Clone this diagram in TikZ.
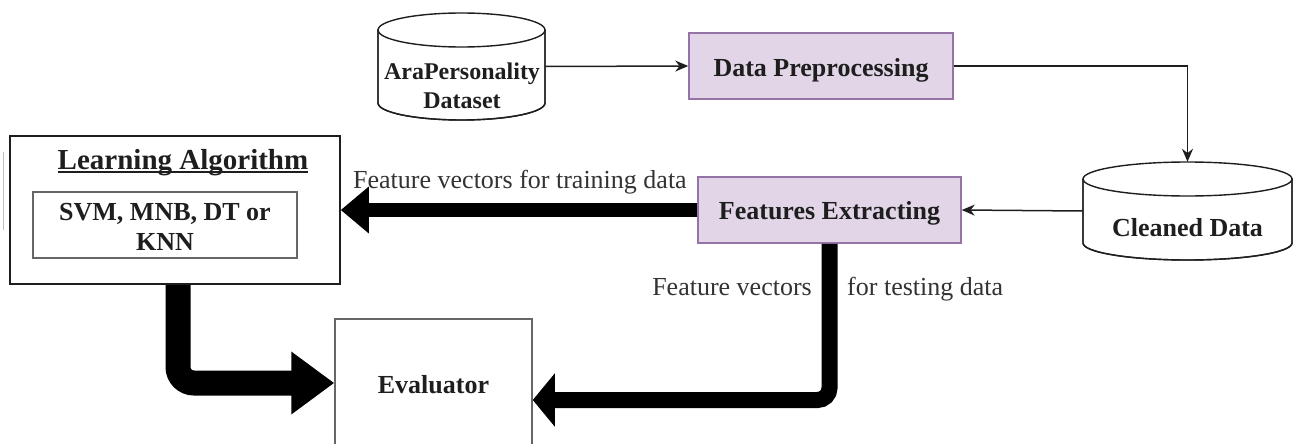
\documentclass[tikz,border=0pt]{standalone}
\usepackage{fontspec}
\setmainfont{Liberation Serif}
\usetikzlibrary{arrows.meta}
\definecolor{purplefill}{HTML}{E1D5E7}
\definecolor{purpleline}{HTML}{9673A6}
\definecolor{inkdark}{HTML}{1E1E1E}
\definecolor{labelgray}{HTML}{333333}
\definecolor{boxgray}{HTML}{666666}
\begin{document}
\begin{tikzpicture}[x=1pt,y=-1pt,
  every node/.style={font=\fontsize{26}{30}\selectfont, text=inkdark, inner sep=0pt},
  procbox/.style={draw=purpleline, fill=purplefill, line width=1.5pt, font=\fontsize{26}{30}\selectfont\bfseries},
  plainbox/.style={draw=boxgray, line width=1.5pt, fill=white, font=\fontsize{26}{30}\selectfont\bfseries},
  holder/.style={draw=none},
  cylline/.style={draw=inkdark, line width=1.4pt, fill=white},
  thinarrow/.style={draw=inkdark, line width=1.5pt, -{Stealth[length=13pt,width=11pt]}},
  lbl/.style={text=labelgray, font=\fontsize{26}{30}\selectfont}
]
\useasboundingbox (0,0) rectangle (1295,444);
\clip (0,0) rectangle (1295,444);

% faint edge artifact
\draw[black!25, line width=1pt] (3,152) -- (3,230);

% cylinder 1
\path[cylline] (378,30) -- (378,103) arc[start angle=180,end angle=360,x radius=83.5pt,y radius=17pt] -- (545,30) -- cycle;
\draw[cylline] (461.5,30) ellipse[x radius=83.5pt, y radius=17pt];
\draw[cylline, fill=none] (378,30) -- (378,103) arc[start angle=180,end angle=360,x radius=83.5pt,y radius=17pt] -- (545,30);
\node[holder, minimum width=167pt, minimum height=107pt] (cyla) at (461.5,66.5) {};
\node[align=center, font=\fontsize{24}{29}\selectfont\bfseries] (cylatext) at (462,86) {AraPersonality\\Dataset};

% cylinder 2
\path[cylline] (1083,179) -- (1083,243) arc[start angle=180,end angle=360,x radius=104.5pt,y radius=17pt] -- (1292,179) -- cycle;
\draw[cylline] (1187.5,179) ellipse[x radius=104.5pt, y radius=17pt];
\draw[cylline, fill=none] (1083,179) -- (1083,243) arc[start angle=180,end angle=360,x radius=104.5pt,y radius=17pt] -- (1292,179);
\node[holder, minimum width=209pt, minimum height=98pt] (cylb) at (1187.5,211) {};
\node[font=\fontsize{26}{30}\selectfont\bfseries] (cylbtext) at (1187.5,228) {Cleaned Data};

% process boxes
\node[procbox, minimum width=264pt, minimum height=66pt] (dp) at (821,66) {};
\node[font=\fontsize{26}{30}\selectfont\bfseries] (dptext) at (821,70) {Data Preprocessing};
\node[procbox, minimum width=263pt, minimum height=66pt] (fe) at (829.5,210) {};
\node[font=\fontsize{26}{30}\selectfont\bfseries] (fetext) at (829.5,213) {Features Extracting};

% learning algorithm
\node[draw=inkdark, line width=1.5pt, minimum width=330pt, minimum height=148pt] (la) at (175,210) {};
\node[anchor=base, font=\fontsize{29}{32}\selectfont\bfseries] (latitle) at (183,169) {Learning Algorithm};
\draw[inkdark, line width=1.3pt] ([yshift=-3pt]latitle.base west) -- ([yshift=-3pt]latitle.base east);
\node[plainbox, align=center, minimum width=264pt, minimum height=66pt] (algs) at (165,225) {};
\node[align=center, font=\fontsize{26}{30}\selectfont\bfseries] (algstext) at (165,227) {SVM, MNB, DT or\\KNN};

% evaluator
\node[plainbox, minimum width=197pt, minimum height=132pt] (ev) at (433.5,385) {Evaluator};

% thin connectors
\draw[thinarrow] (cyla.east) -- (dp.west);
\draw[thinarrow] (dp.east) -| (cylb.north);
\draw[thinarrow] (cylb.west) -- (fe.east);

% thick connectors
\draw[black, line width=14pt, -{Triangle[length=28pt,width=45pt]}] (fe.west) -- (la.east);
\draw[black, line width=25pt, rounded corners=16pt, -{Triangle[length=43pt,width=60pt]}]
  ([xshift=3pt]la.south) |- ([yshift=2pt]ev.west);
\draw[black, line width=16pt, rounded corners=12pt, -{Triangle[length=22pt,width=52pt]}]
  (fe.south) |- ([yshift=-15pt]ev.east);

% labels
\node[lbl, anchor=base west] (trainlbl) at (353,188) {Feature vectors for training data};
\node[lbl, anchor=base east] (testlbla) at (812,295) {Feature vectors};
\node[lbl, anchor=base west] (testlblb) at (847,295) {for testing data};
\end{tikzpicture}
\end{document}
